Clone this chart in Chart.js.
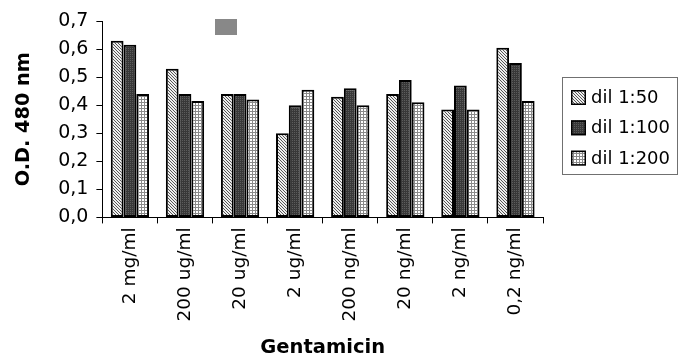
<!DOCTYPE html>
<html>
<head>
<meta charset="utf-8">
<script src="https://cdn.jsdelivr.net/npm/chart.js@4.4.1/dist/chart.umd.min.js"></script>
<style>
  html, body { margin: 0; padding: 0; background: #fff; }
  #wrap { width: 680px; height: 357px; position: relative; }
</style>
</head>
<body>
<div id="wrap"><canvas id="chart"></canvas></div>
<script>
// Gentamicin concentrations on the x axis
const categories = ['2 mg/ml', '200 ug/ml', '20 ug/ml', '2 ug/ml', '200 ng/ml', '20 ng/ml', '2 ng/ml', '0,2 ng/ml'];
const seriesNames = ['dil 1:50', 'dil 1:100', 'dil 1:200'];

// Optical density at 480 nm for each dilution
const dil50  = [0.63, 0.53, 0.44, 0.30, 0.43, 0.44, 0.385, 0.605];
const dil100 = [0.615, 0.44, 0.44, 0.40, 0.46, 0.49, 0.47, 0.55];
const dil200 = [0.44, 0.415, 0.42, 0.455, 0.40, 0.41, 0.385, 0.415];

const yTickLabels = ['0,0', '0,1', '0,2', '0,3', '0,4', '0,5', '0,6', '0,7'];
const xTitle = 'Gentamicin';
const yTitle = 'O.D. 480 nm';

const FONT = "'DejaVu Sans', Verdana, sans-serif";

// Small bitmap fills for the bars
function makePattern(size, pick) {
  const c = document.createElement('canvas');
  c.width = size; c.height = size;
  const g = c.getContext('2d');
  for (let y = 0; y < size; y++) {
    for (let x = 0; x < size; x++) {
      g.fillStyle = pick(x, y);
      g.fillRect(x, y, 1, 1);
    }
  }
  return g.createPattern(c, 'repeat');
}
const hatchFill = makePattern(3, (x, y) => ((x - y + 3) % 3 === 0 ? '#555555' : '#eeeeee'));
const darkFill  = makePattern(2, (x, y) => (x === 0 && y === 0 ? '#5c5c5c' : '#383838'));
const gridFill  = makePattern(3, (x, y) => (x === 0 || y === 0 ? '#8a8a8a' : '#ffffff'));

// Boxed legend on the right
const boxLegend = {
  id: 'boxLegend',
  afterDraw(chart, args, o) {
    const ctx = chart.ctx;
    ctx.save();
    ctx.strokeStyle = '#707070';
    ctx.lineWidth = 1;
    ctx.strokeRect(o.x + 0.5, o.y + 0.5, o.w, o.h);
    ctx.font = o.fontSize + 'px ' + FONT;
    ctx.textBaseline = 'middle';
    chart.data.datasets.forEach((ds, i) => {
      const cy = o.firstRow + i * o.rowGap;
      const bx = o.x + o.swatchLeft, by = cy - o.swatch / 2;
      ctx.fillStyle = ds.backgroundColor;
      ctx.fillRect(bx, by, o.swatch, o.swatch);
      ctx.strokeStyle = '#000';
      ctx.lineWidth = 1.5;
      ctx.strokeRect(bx + 0.75, by + 0.75, o.swatch - 1.5, o.swatch - 1.5);
      ctx.fillStyle = '#000';
      ctx.fillText(ds.label, bx + o.swatch + o.textGap, cy + 1);
    });
    ctx.restore();
  }
};

// Grey box above the third group
const greyBox = {
  id: 'greyBox',
  afterDraw(chart, args, o) {
    const ctx = chart.ctx;
    ctx.save();
    ctx.fillStyle = '#888888';
    ctx.fillRect(o.x, o.y, o.w, o.h);
    ctx.restore();
  }
};

new Chart(document.getElementById('chart'), {
  type: 'bar',
  data: {
    labels: categories,
    datasets: [
      { label: seriesNames[0], data: dil50,  backgroundColor: hatchFill },
      { label: seriesNames[1], data: dil100, backgroundColor: darkFill },
      { label: seriesNames[2], data: dil200, backgroundColor: gridFill }
    ]
  },
  options: {
    responsive: true,
    maintainAspectRatio: false,
    animation: false,
    events: [],
    layout: { padding: { left: 12, right: 137, top: 21, bottom: 0 } },
    datasets: {
      bar: {
        categoryPercentage: 0.695,
        barPercentage: 1.0,
        borderWidth: 2,
        borderColor: '#000',
        borderSkipped: false
      }
    },
    plugins: {
      legend: { display: false },
      tooltip: { enabled: false },
      boxLegend: { x: 562, y: 77, w: 115, h: 97, swatchLeft: 9, swatch: 15, textGap: 5, firstRow: 97.5, rowGap: 30.3, fontSize: 18 },
      greyBox: { x: 215, y: 19, w: 22, h: 16 }
    },
    scales: {
      x: {
        grid: { display: true, drawOnChartArea: false, drawTicks: true, tickLength: 6, color: '#000', lineWidth: 1, offset: true },
        border: { display: true, color: '#000', width: 1 },
        ticks: {
          autoSkip: false, minRotation: 90, maxRotation: 90, padding: 4,
          color: '#000', font: { family: FONT, size: 18.5 }
        },
        title: {
          display: true, text: xTitle, color: '#000',
          font: { family: FONT, size: 19.5, weight: 'bold', lineHeight: 0.95 },
          padding: { top: 13, bottom: 0 }
        }
      },
      y: {
        min: 0, max: 0.7,
        grid: { display: true, drawOnChartArea: false, drawTicks: true, tickLength: 6, color: '#000', lineWidth: 1 },
        border: { display: true, color: '#000', width: 1 },
        ticks: {
          stepSize: 0.1, padding: 8, color: '#000',
          font: { family: FONT, size: 19 },
          callback: (v, i) => yTickLabels[i]
        },
        title: {
          display: true, text: yTitle, color: '#000',
          font: { family: FONT, size: 19.3, weight: 'bold' },
          padding: { top: 0, bottom: 15 }
        }
      }
    }
  },
  plugins: [boxLegend, greyBox]
});
</script>
</body>
</html>
